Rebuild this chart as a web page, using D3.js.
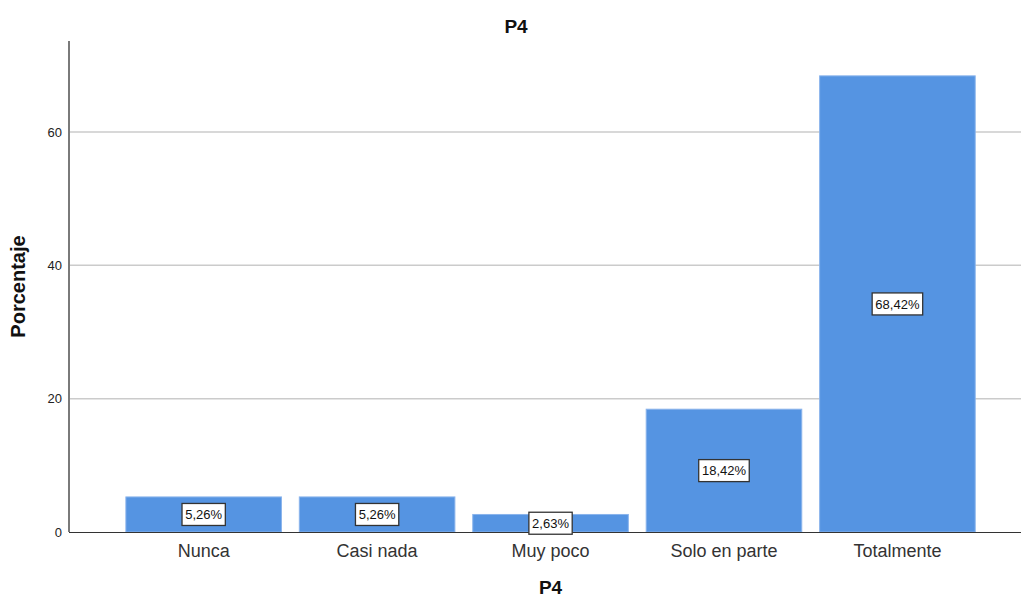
<!DOCTYPE html>
<html>
<head>
<meta charset="utf-8">
<script src="https://cdn.jsdelivr.net/npm/d3@7"></script>
<style>
  html, body { margin: 0; padding: 0; background: #fff; }
  svg { display: block; font-family: Arial, "Liberation Sans", sans-serif; }
</style>
</head>
<body>
<svg id="chart" width="1021" height="599"></svg>
<script>
// P4 responses, percentage of respondents
const categories = ["Nunca", "Casi nada", "Muy poco", "Solo en parte", "Totalmente"];
const percentages = [5.26, 5.26, 2.63, 18.42, 68.42];
const yTicks = [0, 20, 40, 60];
const chartTitle = "P4";
const xTitle = "P4";
const yTitle = "Porcentaje";

(function draw() {
  const svg = d3.select("#chart");
  const plotLeft = 69, plotRight = 1021, plotTop = 41, plotBottom = 532;

  const x = d3.scaleBand()
    .domain(categories)
    .range([plotLeft, plotRight])
    .paddingInner(0.103)
    .paddingOuter(0.296)
    .align(0.554);

  const y = d3.scaleLinear()
    .domain([0, 73.65])
    .range([plotBottom, plotTop]);

  const fmt = v => v.toFixed(2).replace(".", ",") + "%";

  // gridlines
  svg.append("g")
    .selectAll("line")
    .data(yTicks.filter(t => t > 0))
    .join("line")
    .attr("x1", plotLeft).attr("x2", plotRight)
    .attr("y1", d => y(d)).attr("y2", d => y(d))
    .attr("stroke", "#cbcbcb")
    .attr("stroke-width", 1.5);

  // bars
  svg.append("g")
    .selectAll("rect")
    .data(categories)
    .join("rect")
    .attr("x", d => x(d))
    .attr("y", (d, i) => y(percentages[i]))
    .attr("width", x.bandwidth())
    .attr("height", (d, i) => y(0) - y(percentages[i]))
    .attr("fill", "#5594e2")
    .attr("stroke", "#8ab4ec")
    .attr("stroke-width", 1);

  // y axis
  const yAxis = svg.append("g")
    .attr("transform", `translate(${plotLeft},0)`)
    .call(d3.axisLeft(y).tickValues(yTicks).tickSize(0).tickPadding(7).tickFormat(d3.format("d")));
  yAxis.select(".domain").remove();
  yAxis.selectAll("text")
    .attr("font-size", 13)
    .attr("font-family", "Arial, 'Liberation Sans', sans-serif")
    .attr("fill", "#222");

  svg.append("line")
    .attr("x1", plotLeft).attr("x2", plotLeft)
    .attr("y1", plotTop).attr("y2", plotBottom)
    .attr("stroke", "#7a7a7a")
    .attr("stroke-width", 2);

  // x axis baseline
  svg.append("line")
    .attr("x1", plotLeft).attr("x2", plotRight)
    .attr("y1", plotBottom + 0.5).attr("y2", plotBottom + 0.5)
    .attr("stroke", "#333")
    .attr("stroke-width", 1.2);

  // category labels
  svg.append("g")
    .selectAll("text")
    .data(categories)
    .join("text")
    .attr("x", d => x(d) + x.bandwidth() / 2)
    .attr("y", 557)
    .attr("text-anchor", "middle")
    .attr("font-size", 18)
    .attr("fill", "#333")
    .text(d => d);

  // value labels in boxes
  const labels = svg.append("g")
    .selectAll("g")
    .data(categories)
    .join("g")
    .attr("transform", (d, i) => {
      const cy = (y(percentages[i]) + y(0)) / 2;
      return `translate(${x(d) + x.bandwidth() / 2},${cy})`;
    });

  labels.append("rect").attr("class", "box");
  labels.append("text")
    .attr("text-anchor", "middle")
    .attr("dy", "0.36em")
    .attr("font-size", 13)
    .attr("fill", "#111")
    .text((d, i) => fmt(percentages[i]));

  labels.each(function () {
    const g = d3.select(this);
    const bb = g.select("text").node().getBBox();
    const w = bb.width + 6, h = 22;
    g.select("rect.box")
      .attr("x", -w / 2).attr("y", -h / 2)
      .attr("width", w).attr("height", h)
      .attr("fill", "#fff")
      .attr("stroke", "#333")
      .attr("stroke-width", 1.3);
  });

  // titles
  svg.append("text")
    .attr("x", 516).attr("y", 33)
    .attr("text-anchor", "middle")
    .attr("font-size", 19)
    .attr("font-weight", "bold")
    .attr("fill", "#111")
    .text(chartTitle);

  svg.append("text")
    .attr("x", (x(categories[0]) + x(categories[categories.length - 1]) + x.bandwidth()) / 2)
    .attr("y", 594)
    .attr("text-anchor", "middle")
    .attr("font-size", 19)
    .attr("font-weight", "bold")
    .attr("fill", "#111")
    .text(xTitle);

  svg.append("text")
    .attr("transform", `translate(25,${(plotTop + plotBottom) / 2}) rotate(-90)`)
    .attr("text-anchor", "middle")
    .attr("font-size", 20)
    .attr("font-weight", "bold")
    .attr("fill", "#111")
    .text(yTitle);
})();
</script>
</body>
</html>
